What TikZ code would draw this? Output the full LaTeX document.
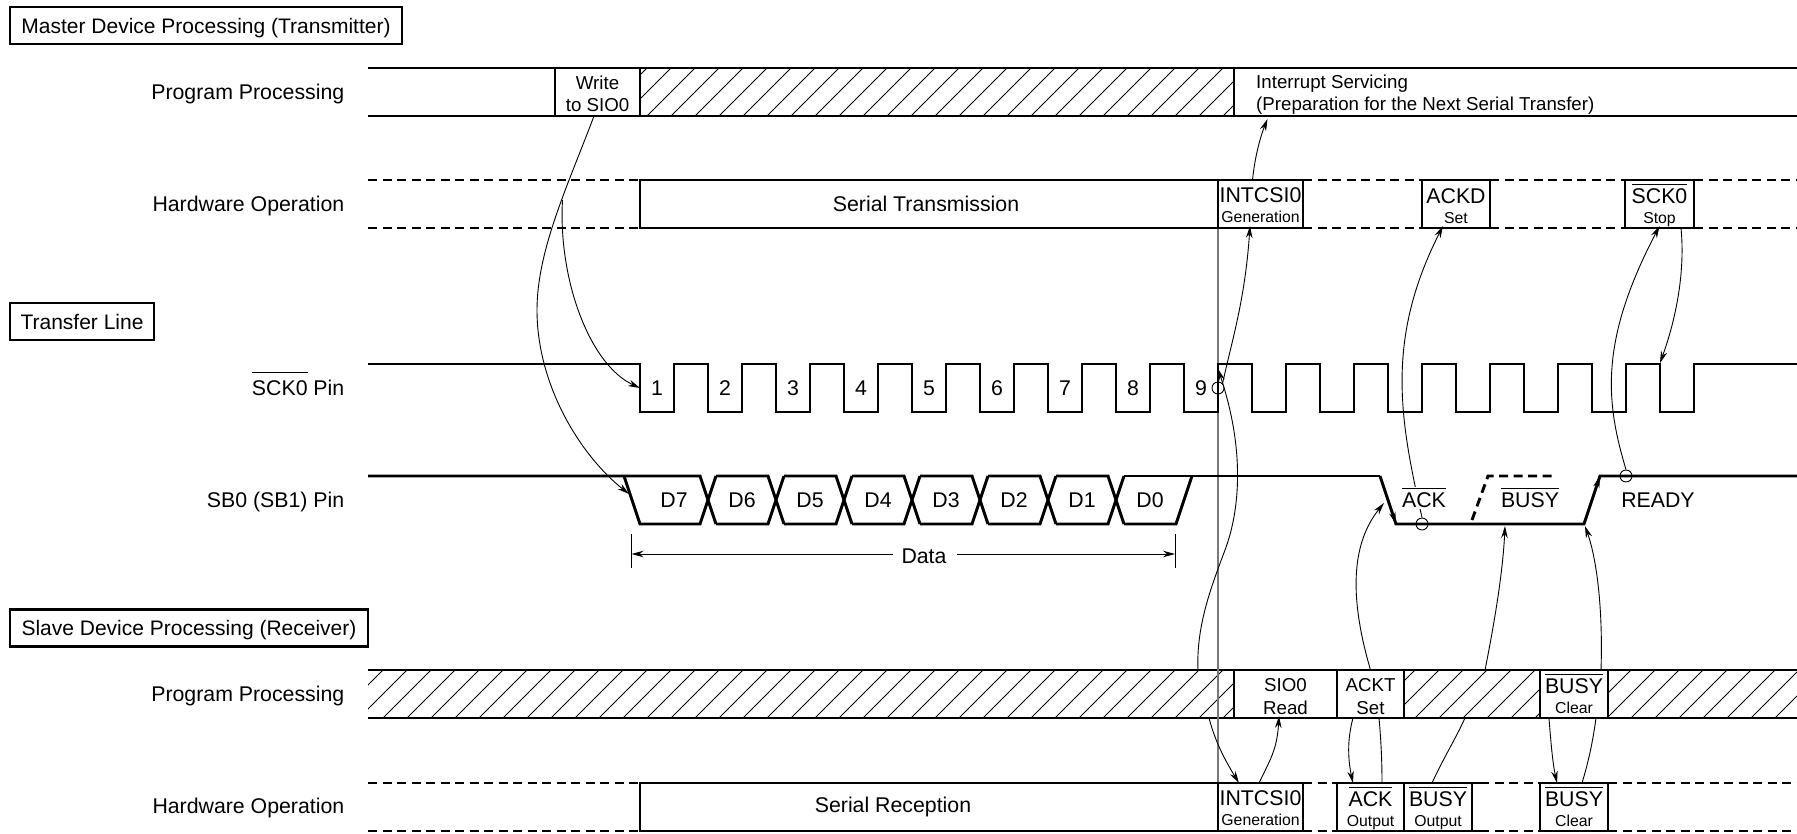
\documentclass[tikz,border=0pt]{standalone}
\usepackage{fontspec}
\setmainfont{Liberation Sans}
\usepackage{tikz}
\usetikzlibrary{arrows.meta,calc}
\definecolor{serialgray}{RGB}{120,120,120}
\newcommand{\lblfont}{\fontsize{21.3}{23}\selectfont}
\newcommand{\tagfont}{\fontsize{21}{23}\selectfont}
\newcommand{\midfont}{\fontsize{18.7}{22}\selectfont}
\newcommand{\subfont}{\fontsize{15.8}{17}\selectfont}
\newcommand{\barsig}[2][18pt]{$\overline{\rule{0pt}{#1}\mbox{#2}}$}
\newcommand{\slotline}[3][23pt]{\rule{0pt}{#1}#2\\[-3pt]{\subfont\rule[-4pt]{0pt}{1pt}#3}}
\newcommand{\hatchbar}[4]{%
  \begin{scope}
    \clip (#1,#3) rectangle (#2,#4);
    \foreach \k in {-3,...,60}
      \draw[hatchline] ({383+24*\k},#4) -- ++(48,-48);
  \end{scope}}
\begin{document}
\begin{tikzpicture}[x=1pt,y=-1pt,font=\lblfont,>={Stealth[length=12pt,width=6.5pt]},
    sig/.style={line width=2.9pt},
    dashsig/.style={line width=2.9pt,dash pattern=on 9pt off 5.5pt},
    conn/.style={line width=.9pt},
    hatchline/.style={line width=.9pt},
    tag/.style={draw,line width=2.9pt,fill=white,anchor=west,minimum height=37pt,inner sep=0pt,outer sep=0pt,font=\tagfont,text height=15pt,text depth=0pt},
    rowlabel/.style={anchor=base east,inner sep=0pt},
    slot/.style={draw,line width=2.9pt,fill=white,minimum height=48pt,inner sep=0pt,outer sep=0pt,align=center},
    pinmark/.style={circle,draw,line width=.9pt,minimum size=12pt,inner sep=0pt}]
  \useasboundingbox (0,0) rectangle (1797,833);
  \coordinate (edgeack) at (1396,524);
  \coordinate (edgeacktop) at (1380,476);
  \coordinate (edgerdy) at (1600,476);
  \coordinate (edgerdylow) at (1584,524);
  \coordinate (d7in) at (629,494);
  \coordinate (pinin) at (640,388);
  \coordinate (fork) at (562.5,200);
  \coordinate (irqin) at (1267.5,119);
  \coordinate (ackin) at (1384,503);
  \coordinate (busyin) at (1505,526);
  \coordinate (clrin) at (1585,526);
  \coordinate (stopin) at (1660,363);
  \coordinate (ninein) at (1218,369);
  \coordinate (ninefrom) at (1198,670);
  \coordinate (busyfrom) at (1485,670);
  \coordinate (busyback) at (1465,718);
  \coordinate (intfrom) at (1209,718);

  % transmitter rows
  \hatchbar{640}{1234}{68}{116}
  \draw[sig] (368,68) -- (1797,68);
  \draw[sig] (368,116) -- (1797,116);
  \draw[sig] (1234,68) -- (1234,116);
  \draw[dashsig] (368,180) -- (640,180);
  \draw[dashsig] (368,228) -- (640,228);
  \draw[dashsig] (1303,180) -- (1422,180) (1303,228) -- (1422,228);
  \draw[dashsig] (1490,180) -- (1625,180) (1490,228) -- (1625,228);
  \draw[dashsig] (1694,180) -- (1797,180) (1694,228) -- (1797,228);

  % receiver rows
  \hatchbar{368}{1234}{670}{718}
  \hatchbar{1404}{1540}{670}{718}
  \hatchbar{1608}{1797}{670}{718}
  \draw[sig] (368,670) -- (1797,670);
  \draw[sig] (368,718) -- (1797,718);
  \draw[dashsig] (368,783) -- (640,783) (368,831) -- (640,831);
  \draw[dashsig] (1303,783) -- (1337,783) (1303,831) -- (1337,831);
  \draw[sig] (1337,783) -- (1480,783) (1337,831) -- (1480,831);
  \draw[dashsig] (1480,783) -- (1540,783) (1480,831) -- (1540,831);
  \draw[dashsig] (1608,783) -- (1797,783) (1608,831) -- (1797,831);

  \draw[serialgray,line width=1.3pt] (1218,228) -- (1218,783);

  % SCK0 waveform
  \draw[sig] (368,364) -- (640,364)
    \foreach \k in {0,...,15}{ -- ++(0,48) -- ++(34,0) -- ++(0,-48) -- ++(34,0)}
    -- (1797,364);
  \foreach \n in {1,...,9}
    \node[anchor=base,inner sep=0pt] (num\n) at ({657+68*(\n-1)},395.5) {\n};

  % SB0 waveform
  \draw[sig] (368,476) -- (624,476) -- (700,476) -- (716,524);
  \draw[sig] (624,476) -- (640,524) -- (700,524) -- (716,476);
  \foreach \k in {1,...,6}{
    \draw[sig] ({640+68*\k+8},476) -- ++(52,0) -- ++(16,48);
    \draw[sig] ({640+68*\k+8},524) -- ++(52,0) -- ++(16,-48);
  }
  \draw[sig] (1124,476) -- (1380,476);
  \draw[sig] (1124,524) -- (1176,524) -- (1192,476);
  \draw[sig] (edgeacktop) -- (edgeack) -- (edgerdylow) -- (edgerdy) -- (1797,476);
  \draw[dashsig] (1472,520) -- (1488,476) -- (1555,476);
  \foreach \d [count=\k from 0] in {D7,D6,D5,D4,D3,D2,D1,D0}
    \node[anchor=base,inner sep=0pt] (\d) at ({674+68*\k},507.5) {\d};
  \node[pinmark] (ackmark) at (1422,524) {};
  \node[pinmark] (rdymark) at (1626,476) {};
  \node[pinmark] (ninemark) at (1218,388) {};

  % data span
  \coordinate (spanl) at (631.5,554);
  \coordinate (spanr) at (1175,554);
  \draw[conn] (631.5,534) -- (631.5,568);
  \draw[conn] (1175,534) -- (1175,568);
  \node (data) at (924,556) {Data};
  \draw[conn,->] (893,554) -- (spanl);
  \draw[conn,->] (957,554) -- (spanr);

  % nodes
  \node[tag,minimum width=392pt] (master) at (10,25.5) {Master Device Processing (Transmitter)};
  \node[tag,minimum width=144pt] (xfer) at (10,321.5) {Transfer Line};
  \node[tag,minimum width=358pt] (slave) at (10,628) {Slave Device Processing (Receiver)};

  \node[rowlabel] (mprog) at (344.5,99.5) {Program Processing};
  \node[rowlabel] (mhw) at (344.5,211.5) {Hardware Operation};
  \node[rowlabel] (sckpin) at (344.5,395.5) {\barsig[22pt]{SCK0} Pin};
  \node[rowlabel] (sbpin) at (344.5,507.5) {SB0 (SB1) Pin};
  \node[rowlabel] (sprog) at (344.5,701.5) {Program Processing};
  \node[rowlabel] (shw) at (344.5,813.5) {Hardware Operation};

  \node[slot,minimum width=85pt,font=\midfont] (wr) at (597.5,92) {\rule{0pt}{18pt}Write\\to SIO0};
  \node[anchor=west,align=left,font=\midfont,inner sep=0pt] (irq) at (1256,94.5) {Interrupt Servicing\\(Preparation for the Next Serial Transfer)};
  \node[slot,minimum width=578pt] (stx) at (929,204) {Serial Transmission\hspace*{6pt}};
  \node[slot,minimum width=85pt] (mint) at (1260.5,204) {\slotline[21pt]{INTCSI0}{Generation}};
  \node[slot,minimum width=68pt] (ackd) at (1456,204) {\slotline{ACKD}{Set}};
  \node[slot,minimum width=69pt] (stop) at (1659.5,204) {\slotline{\barsig{SCK0}}{Stop}};

  \node[slot,minimum width=103pt,font=\midfont] (rd) at (1285.5,694) {\rule{0pt}{18pt}SIO0\\[1pt]Read};
  \node[slot,minimum width=67pt,font=\midfont] (ackt) at (1370.5,694) {\rule{0pt}{18pt}ACKT\\[1pt]Set};
  \node[slot,minimum width=68pt] (clrp) at (1574,694) {\slotline{\barsig{BUSY}}{Clear}};
  \node[slot,minimum width=578pt] (srx) at (929,807) {Serial Reception\hspace*{72pt}};
  \node[slot,minimum width=85pt] (sint) at (1260.5,807) {\slotline[21pt]{INTCSI0}{Generation}};
  \node[slot,minimum width=67pt] (acko) at (1370.5,807) {\slotline{\barsig{ACK}}{Output}};
  \node[slot,minimum width=68pt] (busyo) at (1438,807) {\slotline{\barsig{BUSY}}{Output}};
  \node[slot,minimum width=68pt] (clrh) at (1574,807) {\slotline{\barsig{BUSY}}{Clear}};

  % connectors
  \draw[conn,->] ([xshift=-3.5pt]wr.south) .. controls (568,185) and (537,250) .. (537,310)
    .. controls (537,385) and (580,455) .. (d7in);
  \draw[conn,->] (fork) .. controls (558,280) and (590,365) .. (pinin);
  \draw[conn,->] (ninemark.north east) .. controls (1232,340) and (1245,300) .. ([xshift=-10.5pt,yshift=2pt]mint.south);
  \draw[conn,->] ([xshift=-8pt]mint.north) .. controls (1255,155) and (1261,135) .. (irqin);
  \draw[conn,->] (ackmark.north) .. controls (1400,420) and (1385,340) .. ([xshift=-13pt,yshift=2pt]ackd.south);
  \draw[conn,->] (rdymark.north) .. controls (1605,400) and (1600,340) .. ([yshift=2pt]stop.south);
  \draw[conn,->] ([xshift=21.5pt]stop.south) .. controls (1686,280) and (1672,330) .. (stopin);
  \draw[conn,->] (ninefrom) .. controls (1196,625) and (1212,585) .. (1225,550)
    .. controls (1240,510) and (1245,450) .. (ninein);
  \draw[conn,->] (ackt.north) .. controls (1350,600) and (1350,545) .. (ackin);
  \draw[conn,->] (busyfrom) .. controls (1495,620) and (1503,570) .. (busyin);
  \draw[conn,->] ([xshift=27pt]clrp.north) .. controls (1603,610) and (1597,560) .. (clrin);
  \draw[conn,->] (edgeacktop) -- (edgeack);
  \draw[conn,->] (edgerdylow) -- (edgerdy);
  \draw[conn,->] (intfrom) .. controls (1216,745) and (1228,765) .. ([xshift=-21.5pt]sint.north);
  \draw[conn,->] ([xshift=-1.5pt]sint.north) .. controls (1270,760) and (1277,750) .. ([xshift=-6.5pt,yshift=2pt]rd.south);
  \draw[conn,->] ([xshift=-17.5pt]ackt.south) .. controls (1347,740) and (1348,760) .. ([xshift=-17.5pt]acko.north);
  \draw[conn] ([xshift=11.5pt]acko.north) .. controls (1382,760) and (1381,740) .. ([xshift=8.5pt]ackt.south);
  \draw[conn] ([xshift=-6pt]busyo.north) .. controls (1445,755) and (1455,740) .. (busyback);
  \draw[conn,->] ([xshift=-25pt]clrp.south) .. controls (1551,745) and (1553,765) .. ([xshift=-17pt]clrh.north);
  \draw[conn] ([xshift=8pt]clrh.north) .. controls (1589,760) and (1593,740) .. ([xshift=22pt]clrp.south);

  % signal labels over the lines
  \node[anchor=base,fill=white,inner sep=1pt] (acklbl) at (1424,507.5) {\barsig{ACK}};
  \node[anchor=base,inner sep=1pt] (busylbl) at (1530,507.5) {\barsig{BUSY}};
  \node[anchor=base,inner sep=1pt] (rdylbl) at (1658,507.5) {READY};
\end{tikzpicture}
\end{document}
